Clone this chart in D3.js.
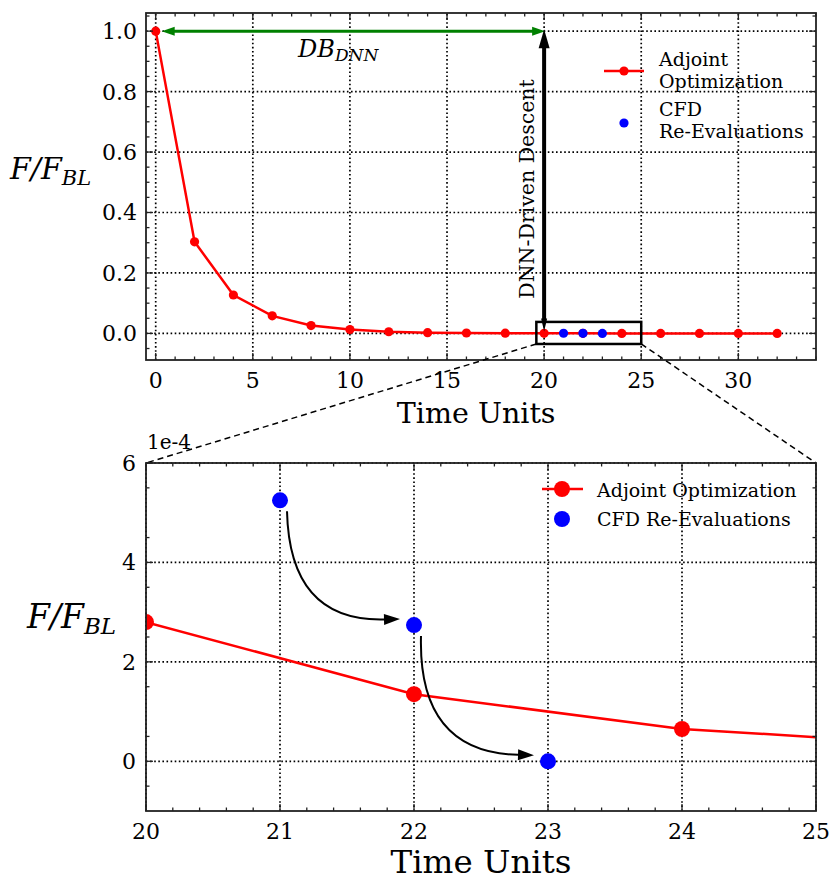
<!DOCTYPE html>
<html lang="en">
<head>
  <meta charset="UTF-8">
  <title>Adjoint vs CFD</title>
  <script src="https://d3js.org/d3.v7.min.js"></script>
  <style>
    html, body { margin: 0; padding: 0; background: #fff; }
    svg text { font-family: "DejaVu Serif", serif; fill: #000; }
    .grid line { stroke: #000; stroke-width: 1.7; stroke-dasharray: 1.6,2.5; }
    .spine { fill: none; stroke: #222; stroke-width: 1.8; }
    .tick-line { stroke: #222; stroke-width: 1.3; }
  </style>
</head>
<body>
  <div id="container"></div>
  <script>
    // data
    const adjX = [0, 2, 4, 6, 8, 10, 12, 14, 16, 18, 20, 22, 24, 26, 28, 30, 32];
    const adjY = [1.0, 0.303, 0.127, 0.058, 0.026, 0.0126, 0.0055, 0.0025, 0.0013, 0.0007,
                  0.00028, 0.000135, 0.000065, 0.000032, 0.000015, 0.000007, 0.000003];
    const cfdX = [21, 22, 23];
    const cfdY = [0.000525, 0.000274, 0.0];

    const topXTicks = [0, 5, 10, 15, 20, 25, 30];
    const topYTicks = [0.0, 0.2, 0.4, 0.6, 0.8, 1.0];
    const insetXTicks = [20, 21, 22, 23, 24, 25];
    const insetYTicks = [0, 2e-4, 4e-4, 6e-4];

    const width = 832, height = 881;
    const svg = d3.select('#container').append('svg').attr('width', width).attr('height', height);

    const defs = svg.append('defs');

    // scales
    const x1 = d3.scaleLinear().domain([-0.5, 34]).range([146, 816]);
    const y1 = d3.scaleLinear().domain([-0.088, 1.06]).range([360, 13]);
    const x2 = d3.scaleLinear().domain([20, 25]).range([146, 816]);
    const y2 = d3.scaleLinear().domain([-1e-4, 6e-4]).range([811, 463]);

    function clip(id, x, y) {
      defs.append('clipPath').attr('id', id).append('rect')
        .attr('x', x.range()[0]).attr('y', y.range()[1])
        .attr('width', x.range()[1] - x.range()[0]).attr('height', y.range()[0] - y.range()[1]);
    }
    clip('c1', x1, y1);
    clip('c2', x2, y2);

    function grid(x, y, xs, ys) {
      const g = svg.append('g').attr('class', 'grid');
      g.selectAll('.gx').data(xs).join('line')
        .attr('x1', d => x(d)).attr('x2', d => x(d)).attr('y1', y.range()[0]).attr('y2', y.range()[1]);
      g.selectAll('.gy').data(ys).join('line')
        .attr('y1', d => y(d)).attr('y2', d => y(d)).attr('x1', x.range()[0]).attr('x2', x.range()[1]);
    }

    // inward ticks on all four sides + frame
    function frame(x, y, xMaj, xMin, yMaj, yMin) {
      const [l, r] = x.range(), [b, t] = y.range();
      const g = svg.append('g');
      const tk = (arr, len, horiz) => {
        arr.forEach(v => {
          if (horiz) {
            const px = x(v);
            g.append('line').attr('class', 'tick-line').attr('x1', px).attr('x2', px).attr('y1', b).attr('y2', b - len);
            g.append('line').attr('class', 'tick-line').attr('x1', px).attr('x2', px).attr('y1', t).attr('y2', t + len);
          } else {
            const py = y(v);
            g.append('line').attr('class', 'tick-line').attr('y1', py).attr('y2', py).attr('x1', l).attr('x2', l + len);
            g.append('line').attr('class', 'tick-line').attr('y1', py).attr('y2', py).attr('x1', r).attr('x2', r - len);
          }
        });
      };
      tk(xMaj, 7, true); tk(xMin, 3.5, true);
      tk(yMaj, 7, false); tk(yMin, 3.5, false);
      g.append('rect').attr('class', 'spine').attr('x', l).attr('y', t).attr('width', r - l).attr('height', b - t);
    }

    function arrowHead(g, tipX, tipY, ang, len, wid, color) {
      // ang: direction the arrow points, radians
      const bx = tipX - len * Math.cos(ang), by = tipY - len * Math.sin(ang);
      const nx = -Math.sin(ang) * wid / 2, ny = Math.cos(ang) * wid / 2;
      g.append('path').attr('d', `M${tipX},${tipY}L${bx + nx},${by + ny}L${bx - nx},${by - ny}Z`).attr('fill', color);
    }

    // ---------------- top panel ----------------
    grid(x1, y1, topXTicks, topYTicks);

    const line1 = d3.line().x((d, i) => x1(adjX[i])).y(d => y1(d));
    const p1 = svg.append('g').attr('clip-path', 'url(#c1)');
    p1.append('path').datum(adjY).attr('d', line1).attr('fill', 'none').attr('stroke', 'red').attr('stroke-width', 2.5);
    p1.selectAll('.m').data(adjY).join('circle')
      .attr('cx', (d, i) => x1(adjX[i])).attr('cy', d => y1(d)).attr('r', 4.6).attr('fill', 'red');
    p1.selectAll('.c').data(cfdY).join('circle')
      .attr('cx', (d, i) => x1(cfdX[i])).attr('cy', d => y1(d)).attr('r', 4.6).attr('fill', 'blue');

    // zoom box
    const bx0 = x1(19.6), bx1 = x1(25.0), by0 = y1(0.038), by1 = y1(-0.035);
    svg.append('rect').attr('x', bx0).attr('y', by0).attr('width', bx1 - bx0).attr('height', by1 - by0)
      .attr('fill', 'none').attr('stroke', '#000').attr('stroke-width', 2.5);

    // green double arrow DB_DNN
    const ga = svg.append('g');
    const gy = y1(1.0), gl = x1(0) + 6, gr = x1(20) + 1;
    ga.append('line').attr('x1', gl + 10).attr('x2', gr - 10).attr('y1', gy).attr('y2', gy)
      .attr('stroke', 'green').attr('stroke-width', 3);
    arrowHead(ga, gl, gy, Math.PI, 13, 9, 'green');
    arrowHead(ga, gr, gy, 0, 13, 9, 'green');
    const dbt = svg.append('text').attr('x', 298).attr('y', 57).style('font-size', '24px').style('font-style', 'italic');
    dbt.append('tspan').text('DB');
    dbt.append('tspan').attr('dy', 4).style('font-size', '17px').text('DNN');

    // black vertical arrow
    const ka = svg.append('g');
    const kx = x1(20), kTop = y1(1.0) - 2, kBot = y1(0.0) - 2;
    ka.append('line').attr('x1', kx).attr('x2', kx).attr('y1', kTop + 16).attr('y2', kBot - 10)
      .attr('stroke', '#000').attr('stroke-width', 4);
    arrowHead(ka, kx, kTop, -Math.PI / 2, 19, 11, '#000');
    arrowHead(ka, kx, kBot, Math.PI / 2, 13, 6, '#000');
    svg.append('text').attr('transform', `translate(534,189) rotate(-90)`).attr('text-anchor', 'middle')
      .style('font-size', '20.5px').text('DNN-Driven Descent');

    frame(x1, y1, topXTicks, d3.range(0, 35).filter(v => v % 5 !== 0),
      topYTicks, d3.range(-0.05, 1.06, 0.05).filter(v => Math.abs(Math.round(v * 20) % 4) !== 0));

    // tick labels
    svg.append('g').selectAll('text').data(topXTicks).join('text')
      .attr('x', d => x1(d)).attr('y', 388).attr('text-anchor', 'middle').style('font-size', '22px').text(d => d);
    svg.append('g').selectAll('text').data(topYTicks).join('text')
      .attr('x', 137).attr('y', d => y1(d) + 8).attr('text-anchor', 'end').style('font-size', '22px').text(d => d.toFixed(1));
    svg.append('text').attr('x', x1(16.5)).attr('y', 423).attr('text-anchor', 'middle').style('font-size', '28.5px').text('Time Units');
    const yl1 = svg.append('text').attr('x', 10).attr('y', 179).style('font-size', '30px').style('font-style', 'italic');
    yl1.append('tspan').text('F/F');
    yl1.append('tspan').attr('dy', 6).style('font-size', '21px').text('BL');

    // legend top
    const lg1 = svg.append('g');
    lg1.append('line').attr('x1', 604).attr('x2', 644).attr('y1', 71).attr('y2', 71).attr('stroke', 'red').attr('stroke-width', 2.5);
    lg1.append('circle').attr('cx', 624).attr('cy', 71).attr('r', 4.6).attr('fill', 'red');
    lg1.append('circle').attr('cx', 624).attr('cy', 123).attr('r', 4.6).attr('fill', 'blue');
    [['Adjoint', 66], ['Optimization', 87.5], ['CFD', 116], ['Re-Evaluations', 137.5]].forEach(([t, yy]) => {
      lg1.append('text').attr('x', 659).attr('y', yy).style('font-size', '19px').text(t);
    });

    // connector lines
    const dash = svg.append('g').attr('stroke', '#000').attr('stroke-width', 1.5).attr('stroke-dasharray', '6,4');
    dash.append('line').attr('x1', bx0).attr('y1', by1).attr('x2', x2(20)).attr('y2', y2(6e-4));
    dash.append('line').attr('x1', bx1).attr('y1', by1).attr('x2', x2(25)).attr('y2', y2(6e-4));

    // ---------------- inset panel ----------------
    grid(x2, y2, insetXTicks, insetYTicks);

    const line2 = d3.line().x((d, i) => x2(adjX[i])).y(d => y2(d));
    const p2 = svg.append('g').attr('clip-path', 'url(#c2)');
    p2.append('path').datum(adjY).attr('d', line2).attr('fill', 'none').attr('stroke', 'red').attr('stroke-width', 2.5);
    p2.selectAll('.m').data(adjY).join('circle')
      .attr('cx', (d, i) => x2(adjX[i])).attr('cy', d => y2(d)).attr('r', 8).attr('fill', 'red');
    p2.selectAll('.c').data(cfdY).join('circle')
      .attr('cx', (d, i) => x2(cfdX[i])).attr('cy', d => y2(d)).attr('r', 8).attr('fill', 'blue');

    // curved arrows between CFD re-evaluations
    const ca = svg.append('g');
    for (let i = 0; i < cfdX.length - 1; i++) {
      const sx = x2(cfdX[i]) + 7, sy = y2(cfdY[i]) + 11;
      const ex = x2(cfdX[i + 1]) - 14, ey = y2(cfdY[i + 1]) - 6;
      const mx = (sx + ex) / 2, my = (sy + ey) / 2;
      const cx = mx - 0.5 * (ey - sy), cy = my + 0.5 * (ex - sx);
      const ang = Math.atan2(ey - cy, ex - cx);
      const hl = 16;
      const px = ex - hl * Math.cos(ang), py = ey - hl * Math.sin(ang);
      ca.append('path').attr('d', `M${sx},${sy}Q${cx},${cy} ${px},${py}`)
        .attr('fill', 'none').attr('stroke', '#000').attr('stroke-width', 2);
      arrowHead(ca, ex, ey, ang, hl, 11, '#000');
    }

    frame(x2, y2, insetXTicks, d3.range(20.2, 25, 0.2).filter(v => Math.abs(v - Math.round(v)) > 0.05),
      insetYTicks, d3.range(-0.5e-4, 6e-4, 1e-4));

    svg.append('g').selectAll('text').data(insetXTicks).join('text')
      .attr('x', d => x2(d)).attr('y', 839).attr('text-anchor', 'middle').style('font-size', '22px').text(d => d);
    svg.append('g').selectAll('text').data(insetYTicks).join('text')
      .attr('x', 136).attr('y', d => y2(d) + 8).attr('text-anchor', 'end').style('font-size', '22px').text(d => Math.round(d * 1e4));
    svg.append('text').attr('x', 147).attr('y', 449).style('font-size', '20px').text('1e-4');
    svg.append('text').attr('x', x2(22.5)).attr('y', 873).attr('text-anchor', 'middle').style('font-size', '32.5px').text('Time Units');
    const yl2 = svg.append('text').attr('x', 27).attr('y', 628).style('font-size', '33px').style('font-style', 'italic');
    yl2.append('tspan').text('F/F');
    yl2.append('tspan').attr('dy', 6).style('font-size', '23px').text('BL');

    // legend inset
    const lg2 = svg.append('g');
    lg2.append('line').attr('x1', 542).attr('x2', 583).attr('y1', 489).attr('y2', 489).attr('stroke', 'red').attr('stroke-width', 2.5);
    lg2.append('circle').attr('cx', 562).attr('cy', 489).attr('r', 8).attr('fill', 'red');
    lg2.append('circle').attr('cx', 562).attr('cy', 519).attr('r', 8).attr('fill', 'blue');
    lg2.append('text').attr('x', 597).attr('y', 497).style('font-size', '19px').text('Adjoint Optimization');
    lg2.append('text').attr('x', 597).attr('y', 526).style('font-size', '19px').text('CFD Re-Evaluations');
  </script>
</body>
</html>
